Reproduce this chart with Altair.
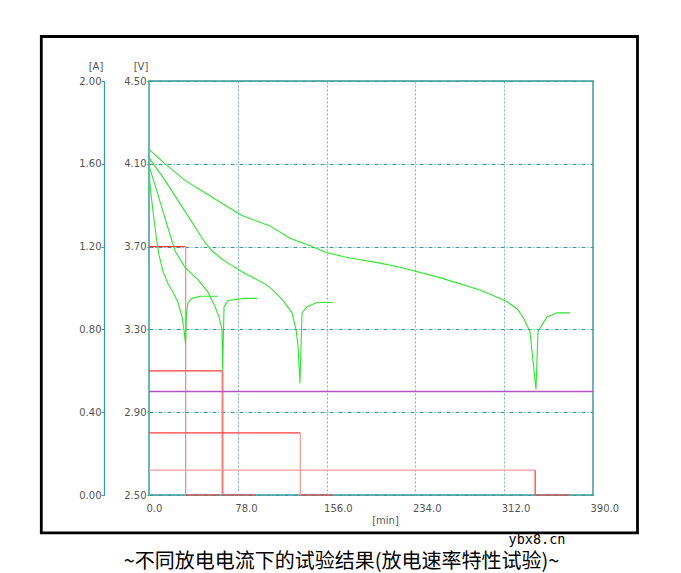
import altair as alt
import pandas as pd

# ---- data ----
# voltage curves: time [min] / voltage [V] for each discharge current
t_120 = [0, 1.8, 3.5, 5.3, 7.0, 8.8, 10.5, 12.3, 16.7, 21.1, 25.5, 29.0, 30.7, 32.1, 32.9, 34.3, 37.8, 44.8, 60.6]
v_120 = [4.05, 3.95, 3.87, 3.79, 3.72, 3.66, 3.62, 3.58, 3.52, 3.48, 3.43, 3.36, 3.30, 3.23, 3.38, 3.43, 3.45, 3.46, 3.46]
t_060 = [0, 7.9, 16.7, 22.8, 31.6, 43.0, 51.8, 58.0, 61.5, 64.1, 64.7, 65.9, 69.4, 84.3, 94.9]
v_060 = [4.09, 3.95, 3.79, 3.68, 3.60, 3.54, 3.48, 3.41, 3.36, 3.30, 3.10, 3.41, 3.44, 3.45, 3.45]
t_030 = [0, 14.1, 31.6, 49.2, 55.3, 64.1, 69.4, 84.3, 101.9, 108.9, 117.7, 125.6, 129.1, 130.9, 132.6,
         134.4, 138.8, 147.6, 161.6]
v_030 = [4.13, 4.02, 3.87, 3.72, 3.68, 3.64, 3.62, 3.57, 3.52, 3.49, 3.44, 3.38, 3.30, 3.22, 3.04,
         3.38, 3.41, 3.43, 3.43]
t_012 = [0, 14.1, 31.6, 49.2, 66.8, 81.7, 106.3, 123.8, 143.2, 156.3, 176.5, 202.9, 220.5, 255.6, 290.7,
         312.7, 323.2, 328.5, 334.6, 339.9, 341.7, 349.6, 358.4, 369.8]
v_012 = [4.17, 4.10, 4.02, 3.96, 3.90, 3.85, 3.80, 3.74, 3.70, 3.67, 3.645, 3.62, 3.60, 3.55, 3.49,
         3.44, 3.40, 3.36, 3.29, 3.01, 3.29, 3.36, 3.38, 3.38]

# current steps: current [A], end of discharge [min], end of rest [min]
currents = [1.2, 0.6, 0.3, 0.12]
t_cut = [32.2, 64.6, 132.9, 339.2]
t_rest = [62.0, 94.0, 161.5, 369.5]

cutoff_v = [3.0]
cutoff_span = [0, 390]

x_ticks = [0, 78, 156, 234, 312, 390]
v_ticks = [2.5, 2.9, 3.3, 3.7, 4.1, 4.5]
a_ticks = [0, 0.4, 0.8, 1.2, 1.6, 2.0]

caption = "~不同放电电流下的试验结果(放电速率特性试验)~"
watermark = "ybx8.cn"

# ---- styles ----
horiz_colors = ["#ff3b3b", "#ff3b3b", "#ff3b3b", "#ff9c9c"]
vert_colors = ["#ff8a8a", "#ff7a7a", "#ff9c9c", "#ff5a5a"]
vert_widths = [1.3, 2.0, 1.3, 1.5]
TEAL = "#3a9a9a"

# ---- build tables ----
vrows = []
for name, ts, vs in [("1.2A", t_120, v_120), ("0.6A", t_060, v_060),
                     ("0.3A", t_030, v_030), ("0.12A", t_012, v_012)]:
    for i, (t, v) in enumerate(zip(ts, vs)):
        vrows.append({"series": name, "idx": i, "t": t, "v": v})
vdf = pd.DataFrame(vrows)

crows = []
for i, (a, tc, tr) in enumerate(zip(currents, t_cut, t_rest)):
    crows.append({"x": 0, "x2": tc, "y": a, "y2": a, "c": horiz_colors[i], "w": 1.2})
    crows.append({"x": tc, "x2": tc, "y": a, "y2": 0, "c": vert_colors[i], "w": vert_widths[i]})
    crows.append({"x": tc, "x2": tr, "y": 0, "y2": 0, "c": "#ff3b3b", "w": 1.2})
cdf = pd.DataFrame(crows)

pdf = pd.DataFrame({"v": cutoff_v, "x": [cutoff_span[0]], "x2": [cutoff_span[1]]})

xscale = alt.Scale(domain=[0, 390], nice=False, zero=False)
vscale = alt.Scale(domain=[2.5, 4.5], nice=False, zero=False)
ascale = alt.Scale(domain=[0, 2], nice=False)

xaxis = alt.Axis(values=x_ticks, format=".1f", title="[min]", grid=True,
                 gridColor="#74b9b9", gridDash=[2, 2], gridWidth=1,
                 domain=False, ticks=False, labelAlign="left", labelOffset=-3,
                 labelFlush=False, labelOverlap=False, labelPadding=8,
                 titleX=236, titleY=25, titleBaseline="middle", titleAlign="center")

vaxis = alt.Axis(values=v_ticks, format=".2f", title="[V]", orient="left",
                 grid=True, gridColor=TEAL, gridDash=[4, 2, 1, 2], gridWidth=1,
                 domain=False, ticks=True, tickSize=2, tickColor=TEAL, labelPadding=1,
                 titleAngle=0, titleX=-8.5, titleY=-15, titleAlign="center",
                 titleBaseline="middle", labelOverlap=False, labelFlush=False)

aaxis = alt.Axis(values=a_ticks, format=".2f", title="[A]", orient="left", offset=45,
                 grid=False, domain=True, domainColor=TEAL, domainWidth=1.3,
                 ticks=True, tickSize=3, tickColor=TEAL, labelPadding=0,
                 titleAngle=0, titleX=-8.5, titleY=-15, titleAlign="center",
                 titleBaseline="middle", labelOverlap=False, labelFlush=False)

one = pd.DataFrame({"caption": [caption], "mark": [watermark]})

frame = alt.Chart(one).mark_rect(filled=False, stroke="black", strokeWidth=2.8).encode(
    x=alt.value(-107.7), x2=alt.value(488.5), y=alt.value(-44.5), y2=alt.value(451.8)
)

current = alt.Chart(cdf).mark_rule().encode(
    x=alt.X("x:Q", scale=xscale, axis=xaxis),
    x2="x2:Q",
    y=alt.Y("y:Q", scale=ascale, axis=aaxis),
    y2="y2:Q",
    color=alt.Color("c:N", scale=None),
    strokeWidth=alt.StrokeWidth("w:Q", scale=None),
)

cutoff = alt.Chart(pdf).mark_rule(color="#b255c4", strokeWidth=1.4).encode(
    x=alt.X("x:Q", scale=xscale, axis=xaxis),
    x2="x2:Q",
    y=alt.Y("v:Q", scale=vscale, axis=None),
)

voltage = alt.Chart(vdf).mark_line(color="#2ee62e", strokeWidth=1.1).encode(
    x=alt.X("t:Q", scale=xscale, axis=xaxis),
    y=alt.Y("v:Q", scale=vscale, axis=vaxis),
    detail="series:N",
    order="idx:Q",
)

cap = alt.Chart(one).mark_text(font="Noto Sans CJK SC", fontSize=20, color="black",
                               align="center", baseline="alphabetic").encode(
    x=alt.value(192.6), y=alt.value(487), text="caption:N"
)

wm = alt.Chart(one).mark_text(font="DejaVu Sans Mono", fontSize=13.5, color="black",
                              align="center", baseline="alphabetic").encode(
    x=alt.value(388), y=alt.value(462.5), text="mark:N"
)

chart = alt.layer(frame, current, cutoff, voltage, cap, wm).resolve_scale(
    y="independent"
).properties(
    width=444, height=414,
    padding={"left": 141, "top": 73, "right": 80, "bottom": 80},
    autosize=alt.AutoSizeParams(type="none"),
).configure_view(
    stroke=TEAL, strokeWidth=1.5
).configure_axis(
    labelFont="DejaVu Sans", labelFontSize=10, labelColor="#555555",
    titleFont="DejaVu Sans", titleFontSize=10, titleFontWeight="normal", titleColor="#555555",
)

chart.save("out.html", embed_options={"renderer": "svg", "actions": False})
